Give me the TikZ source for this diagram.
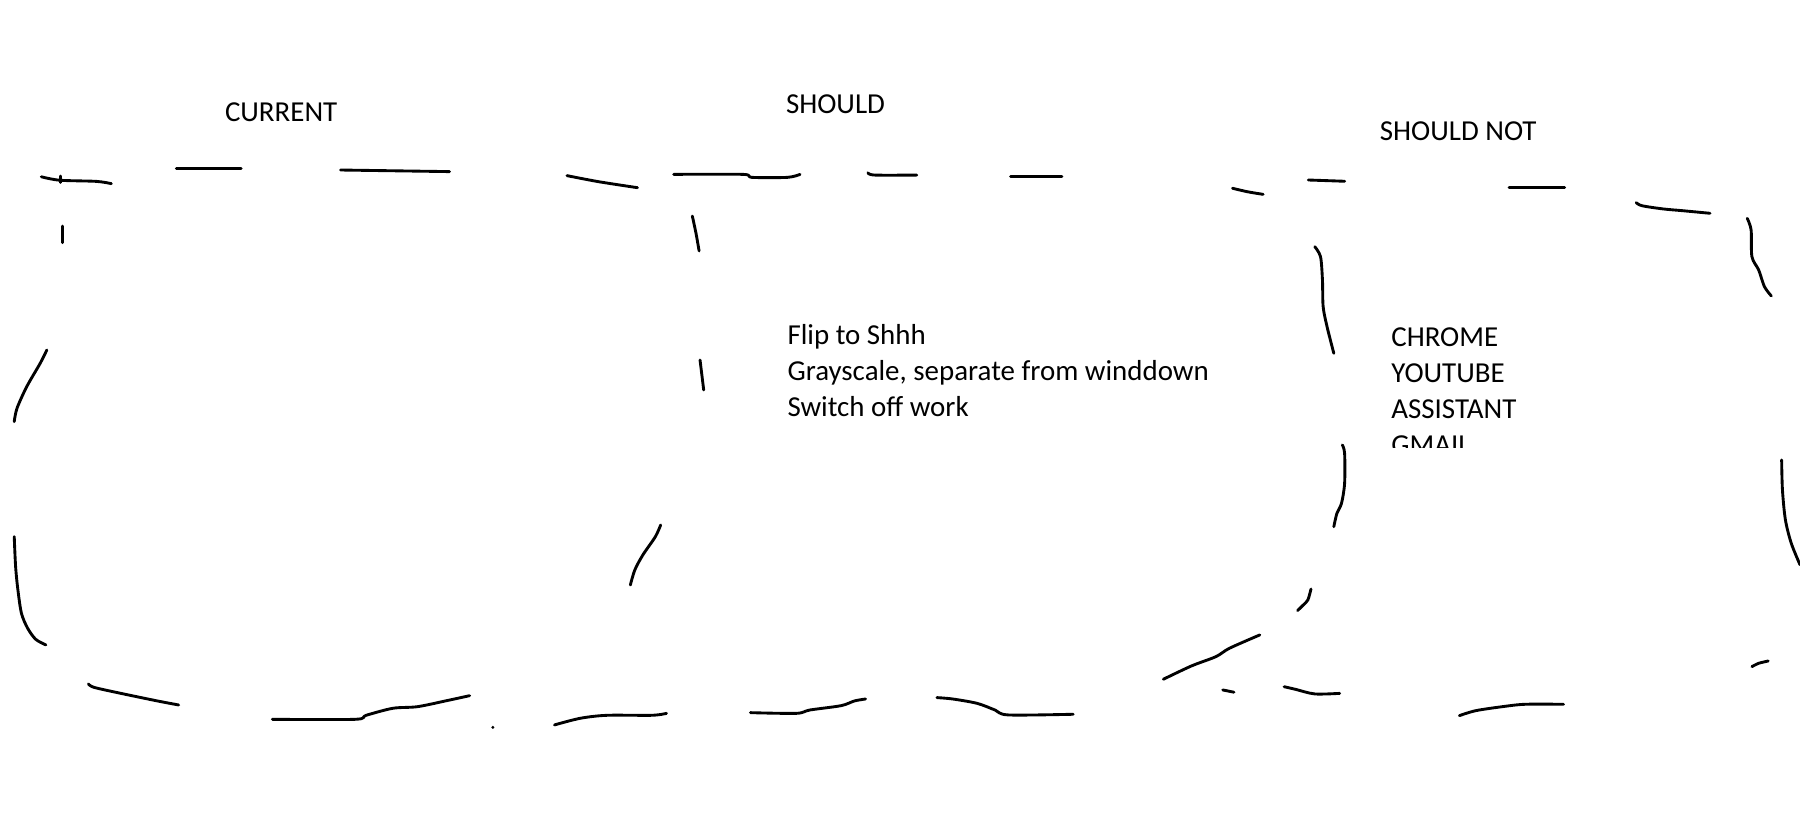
\documentclass[tikz,border=0pt]{standalone}
\usepackage{fontspec}
\setmainfont{Carlito}
\begin{document}
\begin{tikzpicture}[x=1pt,y=-1pt,
  pen/.style={line width=2.5pt,line cap=round,line join=round,black},
  lbl/.style={anchor=base west,inner sep=0pt,outer sep=0pt,font=\fontsize{25.2}{30}\selectfont,text=black}]
\fill[white] (0,0) rectangle (1568,727);
\useasboundingbox (0,0) rectangle (1568,727);
% titles
\node[lbl] (current) at (196,106) {CURRENT};
\node[lbl] (should) at (684.7,98.8) {SHOULD};
\node[lbl] (shouldnot) at (1202,122) {SHOULD NOT};
% should list
\node[lbl] (flip) at (686,300.2) {Flip to Shhh};
\node[lbl] (gray) at (686,331.3) {Grayscale, separate from winddown};
\node[lbl] (switch) at (686,362.4) {Switch off work};
% should not list
\node[lbl] (chrome) at (1212,302) {CHROME};
\node[lbl] (youtube) at (1212,333.3) {YOUTUBE};
\node[lbl] (assistant) at (1212,364.6) {ASSISTANT};
\begin{scope}
\clip (1150,370) rectangle (1400,389.5);
\node[lbl] (gmail) at (1212,395.9) {GMAIL};
\end{scope}
% top strokes
\draw[pen] plot[smooth] coordinates {(36,154) (52,157) (84,158) (97,160)};
\draw[pen] (52.5,153.3) -- (52.5,159);
\draw[pen] (153.6,146.6) -- (210,146.6);
\draw[pen] (296.7,148.1) -- (391.6,149.5);
\draw[pen] plot[smooth] coordinates {(493.9,153) (521,158.2) (555.3,163.5)};
\draw[pen] plot[smooth] coordinates {(586.8,151.9) (647.1,151.9) (654.9,154.5) (686,154.5) (696.9,151.9)};
\draw[pen] plot[smooth] coordinates {(756,150.5) (762,152.5) (798.6,152.5)};
\draw[pen] (880.4,154) -- (925.1,154);
\draw[pen] plot[smooth] coordinates {(1073.6,164) (1086.5,167) (1100.3,169.3)};
\draw[pen] (1139.6,156.8) -- (1171.3,157.9);
\draw[pen] (1314.6,163.2) -- (1363,163.2);
\draw[pen] plot[smooth] coordinates {(1425.3,176.5) (1430.3,179.2) (1448.7,182) (1465.3,183.5) (1489.6,185.8)};
% right side
\draw[pen] plot[smooth] coordinates {(1522,190.2) (1525.4,200.3) (1526.1,223.6) (1532,235.2) (1537,249.7) (1543,257.8)};
\draw[pen] plot[smooth] coordinates {(1552,400.7) (1552.7,426.8) (1555.3,453) (1560.4,473.3) (1568,492)};
\draw[pen] plot[smooth] coordinates {(1526.1,580.7) (1532,577.8) (1540.3,575.8)};
% left side
\draw[pen] (54.4,196.9) -- (54.4,211.4);
\draw[pen] plot[smooth] coordinates {(40.8,304.9) (35,316.5) (23.3,336.8) (14.8,355.7) (12.4,367.3)};
\draw[pen] plot[smooth] coordinates {(12.4,467.5) (13.6,493.6) (15.6,513.9) (18.7,534.3) (24.1,547.3) (31.1,556.9) (40,561.8)};
% bottom strokes
\draw[pen] plot[smooth] coordinates {(77,595.8) (81.7,598.7) (101.1,603.1) (136.1,610.4) (155.6,614.1)};
\draw[pen] plot[smooth] coordinates {(237.2,626.6) (309.2,626.6) (318.9,623.1) (342.2,617) (363.6,615.6) (388.9,610.4) (409.1,606)};
\fill[black] (429.3,633.6) circle (1.4pt);
\draw[pen] plot[smooth] coordinates {(483,631.5) (505.5,625.7) (528.9,623.1) (567.8,623.1) (580.6,621.4)};
\draw[pen] plot[smooth] coordinates {(653.7,620.8) (693.7,621.4) (705.4,618.5) (732.7,614.7) (744.3,610.6) (754,608.9)};
\draw[pen] plot[smooth] coordinates {(816.2,607.7) (829.9,608.9) (851.2,612.7) (866.8,618.5) (878.5,622.8) (934.8,622.2)};
\draw[pen] plot[smooth] coordinates {(1013.4,591.7) (1037.9,580.1) (1059.2,572) (1071,564.7) (1097.4,553.1)};
\draw[pen] (1065.1,601) -- (1074.9,603);
\draw[pen] plot[smooth] coordinates {(1118.6,598.2) (1128.6,600.5) (1145.3,604.5) (1167,604)};
\draw[pen] plot[smooth] coordinates {(1271.3,623.4) (1285.4,619.1) (1308.6,615.6) (1328.6,613.5) (1362,613.5)};
% middle verticals
\draw[pen] plot[smooth] coordinates {(603.1,188.2) (606.3,203.3) (609,218.6)};
\draw[pen] (609.8,313.6) -- (613,339.7);
\draw[pen] plot[smooth] coordinates {(575.5,457.3) (570.9,467.5) (560,483.4) (553,496.5) (549.1,509.6)};
\draw[pen] plot[smooth] coordinates {(1145.3,214.9) (1150.3,223.6) (1152,243.9) (1152.6,267.1) (1156,284.6) (1161.9,307.8)};
\draw[pen] plot[smooth] coordinates {(1169.3,387.6) (1171.3,394.9) (1171.3,421) (1168.6,438.4) (1164.6,447.1) (1161.9,458.8)};
\draw[pen] plot[smooth] coordinates {(1142,513.1) (1139.3,522.6) (1135.3,527) (1130.3,531.9)};
\end{tikzpicture}
\end{document}
